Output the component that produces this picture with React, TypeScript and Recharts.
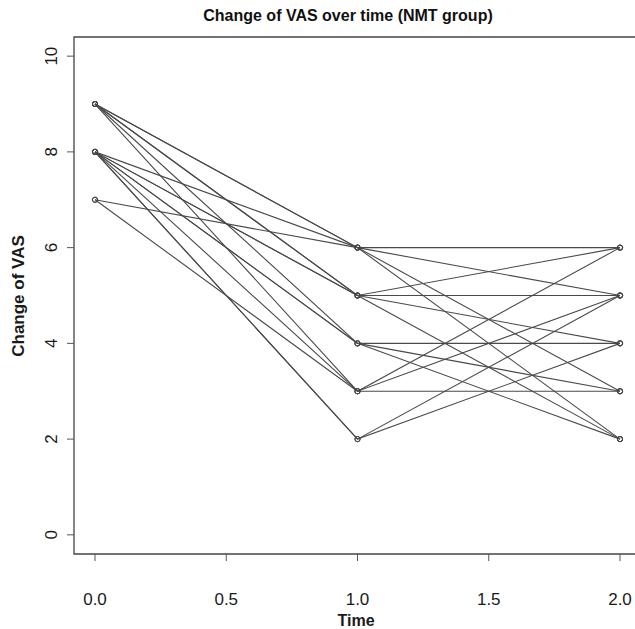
import React from "react";
import { LineChart, Line, XAxis, YAxis, ReferenceArea } from "recharts";

// VAS per subject at each time point (one entry per subject)
const timePoints = [0, 1, 2];
const vasBaseline = [9, 9, 8, 7, 9, 9, 8, 8, 9, 8, 8, 9, 8, 7, 8, 8];
const vasTime1 = [6, 6, 6, 6, 5, 5, 5, 5, 4, 4, 4, 3, 3, 3, 2, 2];
const vasTime2 = [6, 2, 5, 3, 6, 2, 5, 4, 4, 3, 2, 3, 5, 6, 4, 5];

const xTicks = [0, 0.5, 1, 1.5, 2];
const yTicks = [0, 2, 4, 6, 8, 10];

const subjects = vasBaseline.map((v0, i) =>
    [v0, vasTime1[i], vasTime2[i]].map((vas, k) => ({ time: timePoints[k], vas }))
);

const font = "'Liberation Sans', Arial, sans-serif";

const XTick = ({ x, y, payload }: any) => (
    <text x={x} y={y + 42} textAnchor="middle" fontSize={17} fill="#1a1a1a" fontFamily={font}>
        {payload.value.toFixed(1)}
    </text>
);

const YTick = ({ x, y, payload }: any) => (
    <text
        x={x - 13}
        y={y}
        transform={`rotate(-90 ${x - 13} ${y})`}
        textAnchor="middle"
        dominantBaseline="central"
        fontSize={17}
        fill="#1a1a1a"
        fontFamily={font}
    >
        {payload.value}
    </text>
);

const App = () => {
    return (
        <div style={{ position: "absolute", left: 0, top: 0, width: 635, height: 629, background: "#fff", fontFamily: font }}>
            <div style={{ position: "absolute", left: 0, width: 696, top: 7, textAlign: "center", fontSize: 16, fontWeight: "bold", color: "#111" }}>
                Change of VAS over time (NMT group)
            </div>
            <div
                style={{
                    position: "absolute",
                    left: 19,
                    top: 296,
                    transform: "translate(-50%, -50%) rotate(-90deg)",
                    whiteSpace: "nowrap",
                    fontSize: 17,
                    fontWeight: "bold",
                    color: "#1a1a1a",
                }}
            >
                Change of VAS
            </div>
            <div style={{ position: "absolute", left: 356, top: 621, transform: "translate(-50%, -50%)", fontSize: 16, fontWeight: "bold", color: "#1a1a1a" }}>
                Time
            </div>
            <LineChart width={635} height={629} margin={{ top: 37, right: -6, bottom: 15, left: 14 }}>
                <XAxis
                    dataKey="time"
                    type="number"
                    domain={[-0.08, 2.08]}
                    ticks={xTicks}
                    allowDataOverflow
                    axisLine={false}
                    tickLine={{ stroke: "#555" }}
                    tickSize={7}
                    height={60}
                    tick={<XTick />}
                    interval={0}
                />
                <YAxis
                    dataKey="vas"
                    type="number"
                    domain={[-0.4, 10.4]}
                    ticks={yTicks}
                    allowDataOverflow
                    axisLine={false}
                    tickLine={{ stroke: "#555" }}
                    tickSize={7}
                    width={60}
                    tick={<YTick />}
                    interval={0}
                />
                <ReferenceArea x1={-0.08} x2={2.08} y1={-0.4} y2={10.4} fill="none" stroke="#444" strokeWidth={1.3} ifOverflow="visible" />
                {subjects.map((s, i) => (
                    <Line
                        key={i}
                        data={s}
                        dataKey="vas"
                        type="linear"
                        stroke="#4a4a4a"
                        strokeWidth={1.1}
                        dot={{ r: 2.6, stroke: "#444", fill: "none", strokeWidth: 1 }}
                        isAnimationActive={false}
                    />
                ))}
            </LineChart>
        </div>
    );
};

export default App;
